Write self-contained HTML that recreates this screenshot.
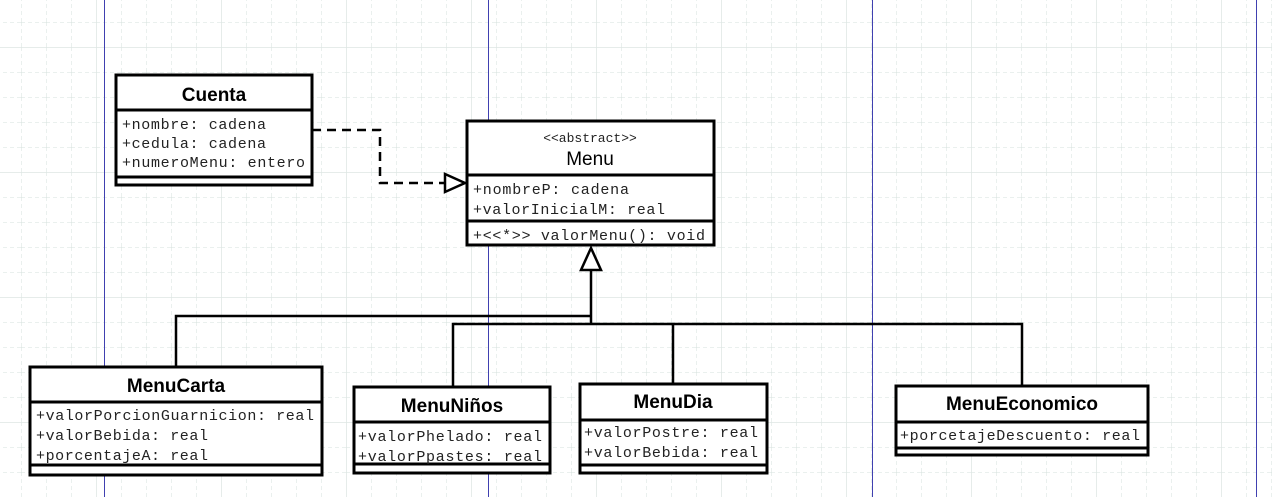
<!DOCTYPE html>
<html><head><meta charset="utf-8"><style>
html,body{margin:0;padding:0;background:#fff;width:1272px;height:497px;overflow:hidden}
svg{display:block}
.m{font-family:"Liberation Mono",monospace;font-size:15px;fill:#222}
.t{font-family:"Liberation Sans","DejaVu Sans",sans-serif;font-weight:bold;font-size:19px;fill:#000}
</style></head><body>
<svg width="1272" height="497" viewBox="0 0 1272 497" xmlns="http://www.w3.org/2000/svg">
<defs>
<pattern id="g" x="21" y="22" width="25" height="25" patternUnits="userSpaceOnUse">
<path d="M0 0V25M0 0H25" stroke="#d4e0dc" stroke-width="1" stroke-dasharray="4 3" fill="none"/>
</pattern>
<pattern id="G" x="96" y="47" width="125" height="125" patternUnits="userSpaceOnUse">
<path d="M0 0V125M0 0H125" stroke="#dde6e3" stroke-width="1.5" fill="none"/>
</pattern>
</defs>
<rect width="1272" height="497" fill="#fff"/>
<rect width="1272" height="497" fill="url(#g)"/>
<rect width="1272" height="497" fill="url(#G)"/>
<g stroke="#4040b0" stroke-width="1"><path d="M104.5 0V497M488.5 0V497M872.5 0V497M1256.5 0V497"/></g>

<path d="M312 130H380V183H445" fill="none" stroke="#000" stroke-width="2.5" stroke-dasharray="9 6"/>
<path d="M445 174L465 183L445 192Z" fill="#fff" stroke="#000" stroke-width="2.5"/>
<g fill="none" stroke="#000" stroke-width="2.5">
<path d="M591 270V324"/>
<path d="M176 367V316H591"/>
<path d="M453 387V324H1022V386"/>
<path d="M673 324V384"/>
</g>
<path d="M591 248L581 270H601Z" fill="#fff" stroke="#000" stroke-width="2.5"/>

<g fill="#fff" stroke="#000" stroke-width="3">
<rect x="116" y="75" width="196" height="110"/>
<path d="M116 110H312M116 177H312"/>
<rect x="467" y="121" width="247" height="124"/>
<path d="M467 175H714M467 221H714"/>
<rect x="30" y="367" width="292" height="108"/>
<path d="M30 402H322M30 465H322"/>
<rect x="354" y="387" width="196" height="86"/>
<path d="M354 422H550M354 464H550"/>
<rect x="580" y="384" width="187" height="89"/>
<path d="M580 420H767M580 465H767"/>
<rect x="896" y="386" width="252" height="69"/>
<path d="M896 422H1148M896 448H1148"/>
</g>

<text class="t" x="214" y="101" text-anchor="middle">Cuenta</text>
<text class="m" x="122" y="129" textLength="144">+nombre: cadena</text>
<text class="m" x="122" y="148" textLength="144">+cedula: cadena</text>
<text class="m" x="122" y="167" textLength="183">+numeroMenu: entero</text>

<text class="m" x="590" y="142" text-anchor="middle" style="font-size:13px">&lt;&lt;abstract&gt;&gt;</text>
<text x="590" y="165" text-anchor="middle" style="font-family:'Liberation Sans',sans-serif;font-size:19px">Menu</text>
<text class="m" x="473" y="194" textLength="156">+nombreP: cadena</text>
<text class="m" x="473" y="214" textLength="192">+valorInicialM: real</text>
<text class="m" x="473" y="240" textLength="232">+&lt;&lt;*&gt;&gt; valorMenu(): void</text>

<text class="t" x="176" y="392" text-anchor="middle">MenuCarta</text>
<text class="m" x="36" y="420" textLength="278">+valorPorcionGuarnicion: real</text>
<text class="m" x="36" y="440" textLength="172">+valorBebida: real</text>
<text class="m" x="36" y="460" textLength="172">+porcentajeA: real</text>

<text class="t" x="452" y="412" text-anchor="middle">MenuNiños</text>
<text class="m" x="358" y="441" textLength="184">+valorPhelado: real</text>
<text class="m" x="358" y="461" textLength="184">+valorPpastes: real</text>

<text class="t" x="673" y="408" text-anchor="middle">MenuDia</text>
<text class="m" x="584" y="437" textLength="174">+valorPostre: real</text>
<text class="m" x="584" y="457" textLength="174">+valorBebida: real</text>

<text class="t" x="1022" y="410" text-anchor="middle">MenuEconomico</text>
<text class="m" x="900" y="440" textLength="240">+porcetajeDescuento: real</text>
</svg>
</body></html>
